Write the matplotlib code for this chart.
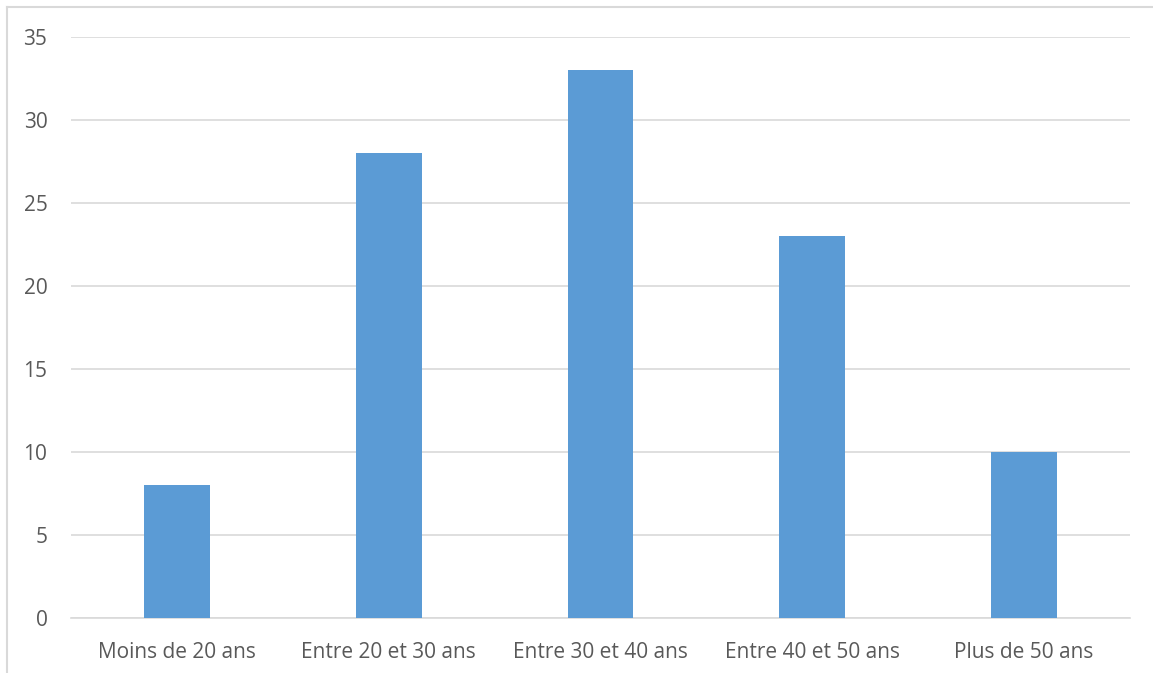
import matplotlib
matplotlib.use("Agg")
import matplotlib.pyplot as plt
from matplotlib.lines import Line2D

categories = ["Moins de 20 ans", "Entre 20 et 30 ans", "Entre 30 et 40 ans",
              "Entre 40 et 50 ans", "Plus de 50 ans"]
values = [8, 28, 33, 23, 10]
yticks = [0, 5, 10, 15, 20, 25, 30, 35]

W, H = 1153, 673
fig = plt.figure(figsize=(W / 100, H / 100), dpi=100)
plt.rcParams['font.family'] = ['Open Sans', 'DejaVu Sans']

ax = fig.add_axes([71 / W, 55 / H, (1130 - 71) / W, (618 - 37) / H])
x = list(range(len(categories)))
ax.bar(x, values, width=0.31, color="#5B9BD5", zorder=3)
ax.set_xlim(-0.5, len(categories) - 0.5)
ax.set_ylim(0, 35)
ax.set_yticks(yticks)
ax.set_xticks(x)
ax.set_xticklabels(categories)
ax.yaxis.grid(True, color="#d9d9d9", linewidth=1.2, zorder=0)
ax.set_axisbelow(True)
for s in ["top", "right", "left"]:
    ax.spines[s].set_visible(False)
ax.spines["bottom"].set_color("#d9d9d9")
ax.spines["bottom"].set_linewidth(1.2)
ax.tick_params(axis="both", length=0, labelsize=15, colors="#595959")
ax.tick_params(axis="y", pad=17)
ax.tick_params(axis="x", pad=17)

# chart-area frame
fig.add_artist(Line2D([7 / W, 7 / W], [0, 1 - 7 / H], color="#d9d9d9", linewidth=1.5))
fig.add_artist(Line2D([7 / W, 1], [1 - 7 / H, 1 - 7 / H], color="#d9d9d9", linewidth=1.5))

fig.savefig("out.png", dpi=100, facecolor="white")
